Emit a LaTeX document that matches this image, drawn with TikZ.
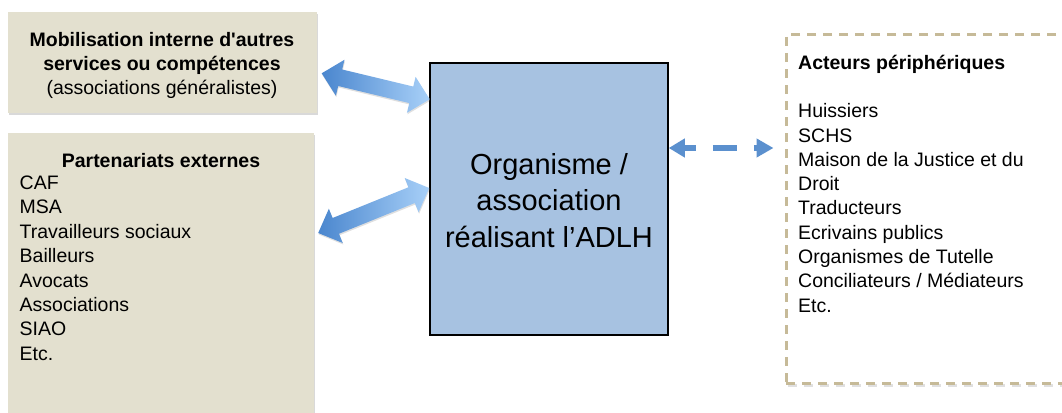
\documentclass[tikz,border=0pt]{standalone}
\usepackage{fontspec}
\setmainfont{Liberation Sans}
\usetikzlibrary{calc,arrows.meta,shadows}
\definecolor{tanfill}{HTML}{E3E0CF}
\definecolor{orgblue}{HTML}{A7C2E1}
\definecolor{arrdark}{HTML}{4A86CE}
\definecolor{arrlight}{HTML}{A8D0F8}
\definecolor{dashblue}{HTML}{5B90CE}
\definecolor{dashtan}{HTML}{C6BA98}
\def\ahl{19}
\def\ahw{18.5}
\def\asw{8.5}
\newcommand{\dblblockarrow}[2]{%
  \path (#1); \pgfgetlastxy{\bax}{\bay}
  \path (#2); \pgfgetlastxy{\bbx}{\bby}
  \pgfmathsetmacro{\bang}{atan2(\bby-\bay,\bbx-\bax)}
  \pgfmathsetmacro{\blen}{veclen(\bbx-\bax,\bby-\bay)}
  \begin{scope}[shift={(#1)}, rotate=\bang]
  \shade[blockarrow] (0,0) -- (\ahl,\ahw) -- (\ahl,\asw) -- (\blen-\ahl,\asw)
    -- (\blen-\ahl,\ahw) -- (\blen,0) -- (\blen-\ahl,-\ahw) -- (\blen-\ahl,-\asw)
    -- (\ahl,-\asw) -- (\ahl,-\ahw) -- cycle;
  \end{scope}}
\begin{document}
\begin{tikzpicture}[x=1pt,y=1pt,
  tanbox/.style={fill=tanfill, draw=none, inner sep=0pt,
    drop shadow={shadow xshift=1pt, shadow yshift=-2pt, opacity=0.3}},
  orgbox/.style={fill=orgblue, draw=black, line width=1.5pt, inner sep=0pt},
  actbox/.style={fill=white, draw=dashtan, line width=3pt, dash pattern=on 9pt off 7pt, inner sep=0pt,
    preaction={draw=black, opacity=0.12, line width=3pt, dash pattern=on 9pt off 7pt,
      transform canvas={shift={(1.5pt,-2.5pt)}}}},
  txt/.style={inner sep=0pt, font=\fontsize{19.5}{24}\selectfont},
  txtb/.style={inner sep=0pt, font=\fontsize{19.5}{24}\selectfont\bfseries},
  bigtxt/.style={inner sep=0pt, font=\fontsize{29}{36}\selectfont},
  blockarrow/.style={left color=arrdark, right color=arrlight,
    drop shadow={shadow xshift=0.5pt, shadow yshift=-1.5pt, opacity=0.25}},
  dasharrow/.style={draw=dashblue, line width=6pt, dash pattern=on 24pt off 17pt, dash phase=12pt,
    {Triangle[length=16pt,width=18pt]}-{Triangle[length=17pt,width=18pt]}}
]
\useasboundingbox (0,0) rectangle (1062,-412);

% boxes
\node[tanbox, minimum width=309pt, minimum height=101pt] (mob) at (162.5,-62.5) {};
\node[tanbox, minimum width=306pt, minimum height=287pt] (part) at (161,-276.5) {};
\node[orgbox, minimum width=238pt, minimum height=272pt] (org) at (549,-199) {};
\node[actbox, minimum width=289pt, minimum height=348pt] (act) at (930.5,-209) {};

% mobilisation text
\node[txtb, anchor=base] (m1) at (162,-46.5) {Mobilisation interne d\textquotesingle autres};
\node[txtb, anchor=base] (m2) at (162,-70.7) {services ou compétences};
\node[txt, anchor=base] (m3) at (162,-94.9) {(associations généralistes)};

% partenariats text
\node[txtb, anchor=base] (pt) at (161,-167) {Partenariats externes};
\foreach \t [count=\i from 0] in {CAF,MSA,Travailleurs sociaux,Bailleurs,Avocats,Associations,SIAO,Etc.}
  \node[txt, anchor=base west] (pl\i) at (19.5,{-189.5-24.4*\i}) {\t};

% organisme text
\node[bigtxt, anchor=base] (o1) at (549,-174) {Organisme /};
\node[bigtxt, anchor=base] (o2) at (549,-210.5) {association};
\node[bigtxt, anchor=base] (o3) at (549,-247) {réalisant l’ADLH};

% acteurs text
\node[txtb, anchor=base west] (at) at (798,-70) {Acteurs périphériques};
\foreach \t [count=\i from 0] in {Huissiers,SCHS,Maison de la Justice et du,Droit,Traducteurs,Ecrivains publics,Organismes de Tutelle,Conciliateurs / Médiateurs,Etc.}
  \node[txt, anchor=base west] (al\i) at (798,{-117.7-24.3*\i}) {\t};

% block arrows
\coordinate (a1s) at ($(mob.east)+(4.5,-10.8)$);
\coordinate (a1e) at ($(org.north west)+(0.5,-37)$);
\coordinate (a2s) at ($(part.east)+(4,43.5)$);
\coordinate (a2e) at ($(org.west)+(0,11)$);
\dblblockarrow{a1s}{a1e}
\dblblockarrow{a2s}{a2e}

% dashed arrow
\coordinate (d1) at ($(org.east)+(0,51)$);
\coordinate (d2) at ($(act.west |- d1)+(-11,0)$);
\draw[dasharrow] (d1) -- (d2);
\end{tikzpicture}
\end{document}
